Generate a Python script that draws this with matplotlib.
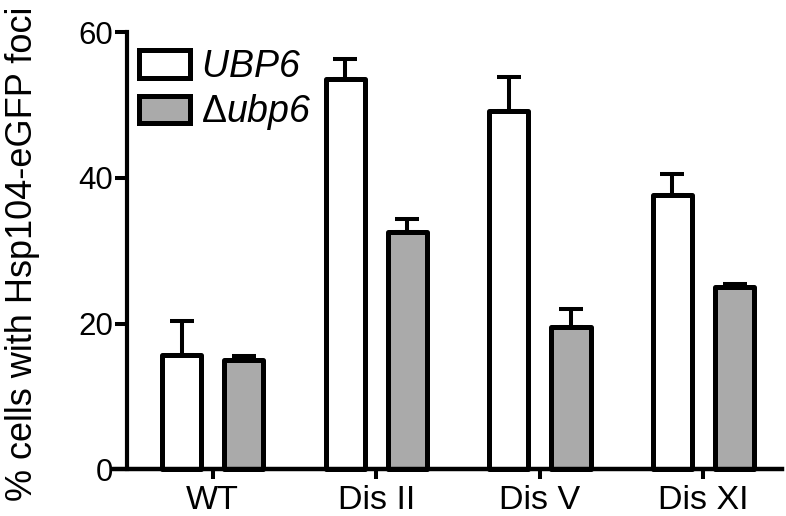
import matplotlib
matplotlib.use('Agg')
import matplotlib.pyplot as plt
import numpy as np

plt.rcParams['font.family'] = ['Liberation Sans', 'DejaVu Sans']
plt.rcParams['mathtext.fontset'] = 'custom'
plt.rcParams['mathtext.rm'] = 'Liberation Sans:italic'
plt.rcParams['mathtext.it'] = 'Liberation Sans:italic'

# data
categories = ['WT', 'Dis II', 'Dis V', 'Dis XI']
ubp6 = [15.7, 53.6, 49.2, 37.6]
ubp6_err = [4.7, 2.8, 4.7, 3.0]
dubp6 = [15.0, 32.6, 19.5, 25.0]
dubp6_err = [0.5, 1.8, 2.5, 0.5]

W, H = 786, 516
fig = plt.figure(figsize=(W / 100, H / 100), dpi=100)
ax = fig.add_axes([113 / W, 1 - 469.3 / H, (782 - 113) / W, (469.3 - 32.3) / H])

x = np.arange(len(categories))
off = 0.19
bw = 0.24
lw = 3.6

b1 = ax.bar(x - off, ubp6, bw, color='white', edgecolor='black', linewidth=lw, zorder=3)
b2 = ax.bar(x + off, dubp6, bw, color='#aaaaaa', edgecolor='black', linewidth=lw, zorder=3)
for b in list(b1) + list(b2):
    b.set_joinstyle('round')
    b.set_clip_on(False)

ax.errorbar(x - off, ubp6, yerr=[np.zeros(4), ubp6_err], fmt='none', ecolor='black',
            elinewidth=2.9, capsize=8.6, capthick=2.9, zorder=2, clip_on=False)
ax.errorbar(x + off, dubp6, yerr=[np.zeros(4), dubp6_err], fmt='none', ecolor='black',
            elinewidth=2.9, capsize=8.6, capthick=2.9, zorder=2, clip_on=False)

ax.set_xlim(-0.609, 3.48)
ax.set_ylim(0, 60)
ax.spines['top'].set_visible(False)
ax.spines['right'].set_visible(False)
ax.spines['left'].set_position(('data', -0.523))
ax.spines['left'].set_linewidth(3.0)
ax.spines['bottom'].set_linewidth(3.2)
ax.spines['bottom'].set_zorder(4)

ax.set_yticks([0, 20, 40, 60])
ax.set_xticks(x)
ax.set_xticklabels(categories)
ax.tick_params(axis='y', length=9, width=2.9, labelsize=22.5, pad=1)
ax.tick_params(axis='x', length=7.2, width=2.9, labelsize=24.5, pad=4)

fig.text(40 / W, 1 - 254 / H, '% cells with Hsp104-eGFP foci', rotation=90,
         ha='right', va='center', fontsize=26)

ax.legend([b1, b2], [r'$UBP6$', r'Δ$ubp6$'], loc='upper left',
          bbox_to_anchor=(139 / W, 1 - 49 / H), bbox_transform=fig.transFigure,
          frameon=False, borderpad=0, borderaxespad=0, fontsize=27,
          handlelength=51 / 37.5, handleheight=28 / 37.5, handletextpad=0.3,
          labelspacing=0.2)

fig.savefig('out.png', dpi=100)
